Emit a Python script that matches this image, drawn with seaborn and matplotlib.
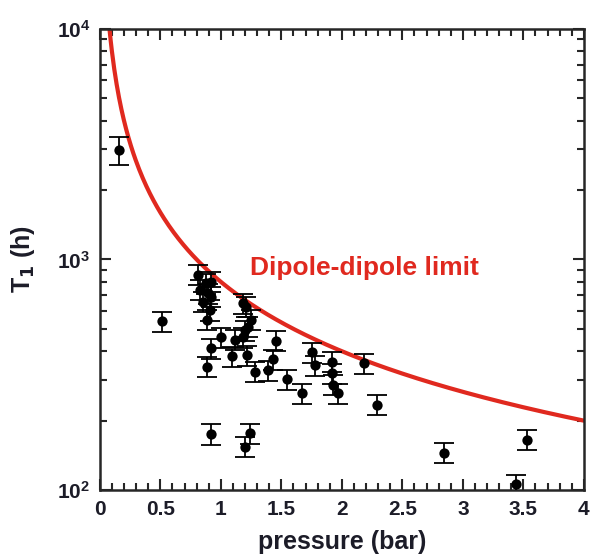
import numpy as np
import pandas as pd
import matplotlib
import matplotlib.pyplot as plt
import seaborn as sns
from matplotlib.ticker import LogLocator, MultipleLocator, NullFormatter

matplotlib.use("Agg")
sns.set_style("ticks")
plt.rcParams['font.family'] = ['Liberation Sans', 'DejaVu Sans']
plt.rcParams['font.weight'] = 'bold'
plt.rcParams['mathtext.default'] = 'bf'

# measured T1 vs pressure
pressure = [0.157, 0.51, 0.81, 0.83, 0.85, 0.88, 0.895, 0.91, 0.92, 0.92, 0.887,
            0.917, 0.887, 1.005, 1.09, 1.116, 1.18, 1.21, 1.25, 1.226, 1.2, 1.18,
            1.22, 1.28, 1.39, 1.43, 1.455, 1.55, 1.67, 1.755, 1.78, 1.92, 1.92,
            1.925, 1.97, 2.18, 2.29, 0.917, 1.24, 1.2, 2.84, 3.53, 3.44]
t1 = [2990, 540, 857, 738, 657, 789, 713, 604, 802, 690, 547,
      412, 343, 459, 381, 448, 646, 623, 547, 511, 494, 459,
      385, 326, 330, 369, 444, 302, 263, 395, 348, 360, 321,
      286, 263, 355, 234, 175, 176, 154, 145, 165, 106]
rel_err = [0.14] + [0.1] * 42

# dipole-dipole limit curve T1 = 800 / p
p_curve = np.linspace(0.08, 4.0, 400)
t_curve = 800.0 / p_curve

df = pd.DataFrame({"pressure": pressure, "T1": t1})
df["err"] = df["T1"] * np.array(rel_err)
curve = pd.DataFrame({"pressure": p_curve, "T1": t_curve})

fig = plt.figure(figsize=(5.94, 5.55), dpi=100)
ax = fig.add_axes([0.168, 0.117, 0.815, 0.831])

red = "#e0291f"
ink = "#1c1c28"
sns.lineplot(data=curve, x="pressure", y="T1", ax=ax, color=red, linewidth=3, zorder=2)
ax.errorbar(df["pressure"], df["T1"], yerr=df["err"], fmt="none",
            ecolor="black", elinewidth=1.3, capsize=7, capthick=1.3, zorder=3)
sns.scatterplot(data=df, x="pressure", y="T1", ax=ax, color="black", s=55,
                edgecolor="black", linewidth=0, zorder=4)

ax.set_yscale("log")
ax.set_xlim(0, 4)
ax.set_ylim(100, 10000)

ax.xaxis.set_minor_locator(MultipleLocator(0.1))
ax.set_xticks([0, 0.5, 1, 1.5, 2, 2.5, 3, 3.5, 4])
ax.set_xticklabels(["0", "0.5", "1", "1.5", "2", "2.5", "3", "3.5", "4"])
ax.yaxis.set_major_locator(LogLocator(base=10, numticks=5))
ax.yaxis.set_minor_locator(LogLocator(base=10, subs=np.arange(2, 10), numticks=20))
ax.yaxis.set_minor_formatter(NullFormatter())

ax.tick_params(which="both", direction="in", top=True, right=True, width=1.5,
               labelsize=15, labelcolor=ink)
ax.tick_params(which="major", length=8, pad=7)
ax.tick_params(which="minor", length=5)
for s in ax.spines.values():
    s.set_linewidth(1.8)

ax.set_xlabel("pressure (bar)", fontsize=18, fontweight="bold", labelpad=8, color=ink)
ax.set_ylabel("T$_1$ (h)", fontsize=18, fontweight="bold", labelpad=14, color=ink)

ax.text(1.24, 919, "Dipole-dipole limit", color=red, fontsize=19,
        fontweight="bold", va="center", ha="left")

fig.savefig("out.png", dpi=100)
